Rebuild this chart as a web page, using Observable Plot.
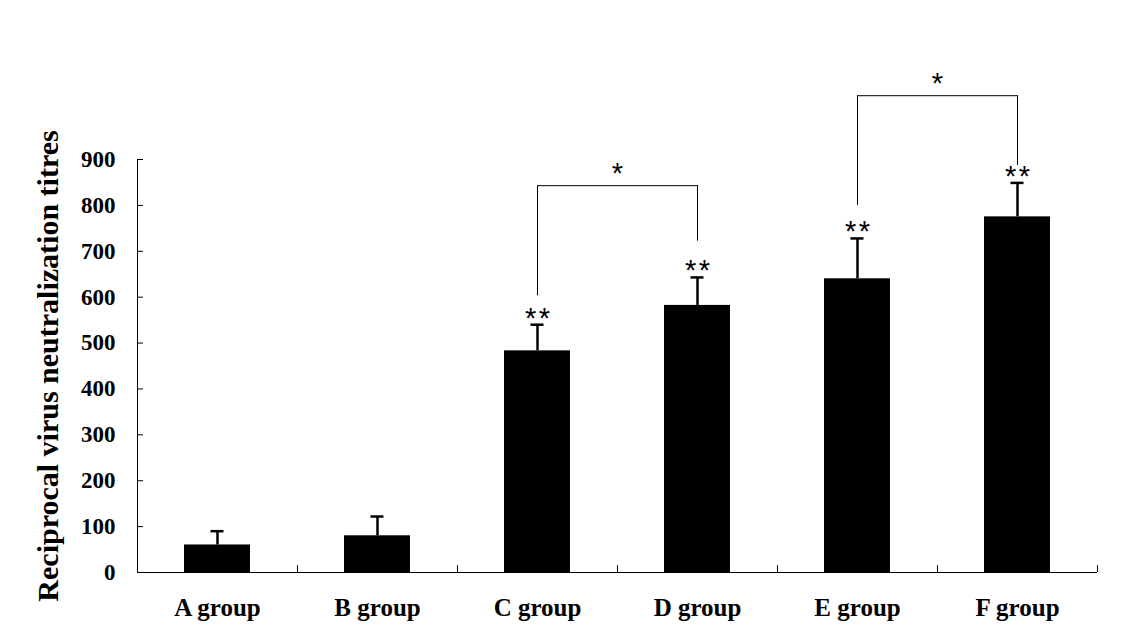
<!DOCTYPE html>
<html>
<head>
<meta charset="utf-8">
<script src="https://cdn.jsdelivr.net/npm/d3@7"></script>
<script src="https://cdn.jsdelivr.net/npm/@observablehq/plot@0.6"></script>
<style>
  html, body { margin: 0; padding: 0; background: #fff; }
</style>
</head>
<body>
<div id="chart"></div>
<script>
// ---- data ----
const groups = ["A group", "B group", "C group", "D group", "E group", "F group"];
const means = [60, 80, 483, 582, 640, 775];
const errors = [30, 42, 57, 61, 88, 74];
const sigLabels = ["", "", "**", "**", "**", "**"];
const yTicks = [0, 100, 200, 300, 400, 500, 600, 700, 800, 900];
const yTitle = "Reciprocal virus neutralization titres";

// comparison brackets
const bracketFrom = ["C group", "E group"];
const bracketTo = ["D group", "F group"];
const bracketTop = [843, 1039];
const bracketFromEnd = [603, 800];
const bracketToEnd = [722, 887];
const bracketLabel = ["*", "*"];

// ---- derived tables ----
const rows = groups.map((g, i) => ({group: g, mean: means[i], err: errors[i], top: means[i] + errors[i], sig: sigLabels[i]}));
const brackets = bracketFrom.map((f, i) => ({from: f, to: bracketTo[i], top: bracketTop[i], fromEnd: bracketFromEnd[i], toEnd: bracketToEnd[i], label: bracketLabel[i]}));

// ---- layout ----
const W = 1138, H = 642;
const mL = 137, mR = 41, mT = 159, mB = 70;
const step = (W - mL - mR) / groups.length;
const serif = "'Liberation Serif', 'Times New Roman', Times, serif";
const sans = "'Liberation Sans', Arial, Helvetica, sans-serif";
const spaced = s => s.split("").join("\u200A");

const chart = Plot.plot({
  width: W,
  height: H,
  marginLeft: mL,
  marginRight: mR,
  marginTop: mT,
  marginBottom: mB,
  style: {background: "#fff", color: "#000", overflow: "visible"},
  x: {domain: groups, padding: 0, label: null},
  y: {domain: [0, 900], label: null},
  marks: [
    // bars
    Plot.barY(rows, {x: "group", y: "mean", fill: "#000", insetLeft: 47, insetRight: 47}),
    // error bars (upper only)
    Plot.ruleX(rows, {x: "group", y1: "mean", y2: "top", stroke: "#000", strokeWidth: 2.5}),
    Plot.tickY(rows, {x: "group", y: "top", stroke: "#000", strokeWidth: 2.5, insetLeft: 73.5, insetRight: 73.5}),
    // significance stars above bars
    Plot.text(rows, {x: "group", y: "top", text: d => spaced(d.sig), lineAnchor: "bottom", dy: 3, fontSize: 29, fontFamily: sans, fill: "#000"}),
    // brackets
    Plot.link(brackets, {x1: "from", x2: "to", y1: "top", y2: "top", stroke: "#000", strokeWidth: 1}),
    Plot.ruleX(brackets, {x: "from", y1: "fromEnd", y2: "top", stroke: "#000", strokeWidth: 1}),
    Plot.ruleX(brackets, {x: "to", y1: "toEnd", y2: "top", stroke: "#000", strokeWidth: 1}),
    Plot.text(brackets, {x: "from", y: "top", text: "label", dx: step / 2, lineAnchor: "bottom", dy: -3, fontSize: 29, fontFamily: sans, fill: "#000"}),
    // axes
    Plot.ruleY([0], {stroke: "#000", strokeWidth: 1}),
    Plot.frame({anchor: "left", stroke: "#000", strokeWidth: 1}),
    Plot.tickY(yTicks, {y: d => d, x: () => groups[0], insetRight: step - 6, stroke: "#000", strokeWidth: 1}),
    Plot.ruleX(groups, {x: d => d, dx: step / 2, y1: 0, y2: 15, stroke: "#000", strokeWidth: 1}),
    Plot.axisY(yTicks, {tickSize: 0, tickPadding: 22, fontSize: 23, fontWeight: "bold", fontFamily: serif, label: null, tickFormat: d => String(d)}),
    Plot.axisX({tickSize: 0, tickPadding: 26, fontSize: 25, fontWeight: "bold", fontFamily: serif, label: null}),
    Plot.text([yTitle], {frameAnchor: "left", dx: -89, rotate: -90, textAnchor: "middle", fontSize: 30, fontWeight: "bold", fontFamily: serif, fill: "#000"})
  ]
});
document.getElementById("chart").append(chart);
</script>
</body>
</html>
